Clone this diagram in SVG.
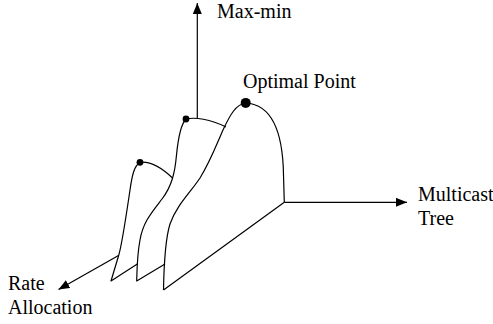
<svg xmlns="http://www.w3.org/2000/svg" width="493" height="324" viewBox="0 0 493 324">
<style>
.ln{fill:none;stroke:#000;stroke-width:1.2;stroke-linejoin:round}
.ax{fill:none;stroke:#000;stroke-width:1.2}
.t{font-family:"Liberation Serif","Times New Roman",serif;font-size:20px;fill:#000}
</style>
<defs>
<marker id="ah" markerUnits="userSpaceOnUse" markerWidth="12" markerHeight="10" refX="11" refY="4.5" orient="auto">
<path d="M0,0 L11,4.5 L0,9 z" fill="#000"/>
</marker>
</defs>
<rect width="493" height="324" fill="#fff"/>
<g id="connectors">
<line class="ax" x1="197.3" y1="118" x2="197.3" y2="3" marker-end="url(#ah)"/>
<line class="ax" x1="284.3" y1="202.3" x2="407" y2="202.3" marker-end="url(#ah)"/>
<line class="ax" x1="118.5" y1="255.5" x2="58.5" y2="289.5" marker-end="url(#ah)"/>
</g>
<g id="small-curve">
<path class="ln" d="M140,162.3 C150,161 162,168 172.5,178"/>
<path class="ln" d="M140,162.3 C134,166 132,176 130,190 C127,210 122,245 118.5,256 L111,281 L137.3,264"/>
<circle cx="140" cy="162.3" r="3.4" fill="#000"/>
</g>
<g id="middle-curve">
<path class="ln" d="M186,119 C195,117 210,119 226,127"/>
<path class="ln" d="M186,119 C180,125 178,140 176.5,155 C175,172 172,186 162,199 C152,212 143,222 140,240 C137,256 137,270 136.7,281 L165,264"/>
<circle cx="186" cy="119" r="3.4" fill="#000"/>
</g>
<g id="optimal-curve">
<path class="ln" d="M163.5,290 L284.3,202.3 L283.5,175 C283,140 275,105 246,103 C236,104 230,115 223,130 C216,146 210,162 200,178 C190,193 176,206 170,224 C165,240 164,262 163.5,290"/>
<circle cx="245.7" cy="102.9" r="5" fill="#000"/>
</g>
<g id="labels">
<text class="t" x="217" y="18">Max-min</text>
<text class="t" x="243" y="88">Optimal Point</text>
<text class="t" x="418" y="200.5">Multicast</text>
<text class="t" x="418" y="225">Tree</text>
<text class="t" x="8" y="290">Rate</text>
<text class="t" x="8" y="314">Allocation</text>
</g>
</svg>
